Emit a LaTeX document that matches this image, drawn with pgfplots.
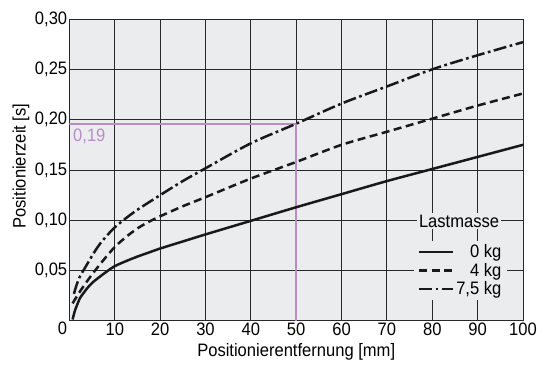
\documentclass[border=0pt]{standalone}
\usepackage{fontspec}
\setmainfont[FakeStretch=0.92]{Liberation Sans}
\usepackage{pgfplots}
\pgfplotsset{compat=1.18}
\definecolor{bgc}{RGB}{235,236,238}
\definecolor{lila}{RGB}{185,140,200}
\definecolor{gridc}{RGB}{40,40,40}
\begin{document}
\begin{tikzpicture}
\begin{axis}[
  scale only axis,
  width=453.6pt, height=302pt,
  xmin=0, xmax=100, ymin=0, ymax=0.30,
  axis background/.style={fill=bgc},
  axis line style={gridc, line width=1pt},
  xtick={10,20,...,100},
  xticklabels={10,20,30,40,50,60,70,80,90,100},
  ytick={0,0.05,0.10,0.15,0.20,0.25,0.30},
  yticklabels={\smash{\raisebox{-13.5pt}{0}},{0,05},{0,10},{0,15},{0,20},{0,25},{0,30}},
  /pgf/number format/assume math mode=true,
  major tick length=0pt,
  grid=major,
  major grid style={gridc, line width=1pt},
  tick label style={font=\fontsize{18}{20}\selectfont},
  yticklabel style={inner sep=2pt},
  xticklabel style={inner sep=2pt},
  label style={font=\fontsize{18}{20}\selectfont},
  xlabel={Positionierentfernung [mm]},
  ylabel={Positionierzeit [s]},
  xlabel style={at={(axis description cs:0.5,0)}, anchor=center, yshift=-31pt},
  ylabel style={at={(axis description cs:-0.1067,0.513)}, anchor=center},
  legend style={draw=none, fill=bgc, font=\fontsize{18}{20}\selectfont,
    at={(axis description cs:0.966,0.068)}, anchor=south east,
    inner xsep=4pt, inner ysep=2pt, row sep=0pt},
  legend cell align=right,
  legend image code/.code={\draw[#1] (0pt,0pt) -- (34pt,0pt);},
  every axis plot/.append style={line width=2.5pt, line cap=butt},
]
\addplot[lila, line width=2pt, forget plot] coordinates {(0,0.1955) (50,0.1955) (50,0)};

\addplot[black!90, smooth] coordinates {
(0.7,0.0015) (1.2,0.010) (1.7,0.016) (2.3,0.0225) (3,0.027) (4,0.033) (5.3,0.039) (7,0.045) (8.5,0.050) (10,0.0545) (12.5,0.0595) (15,0.064) (17.5,0.068) (20,0.072) (25,0.079) (30,0.086) (40,0.0995) (50,0.113) (60,0.126) (70,0.139) (80,0.151) (90,0.163) (100,0.175)};
\addlegendentry{0 kg}

\addplot[black!90, smooth, dash pattern=on 8pt off 4.5pt] coordinates {
(0.7,0.0175) (2,0.027) (3.5,0.037) (5.3,0.048) (7.5,0.0605) (10,0.0735) (12.5,0.0835) (15,0.092) (17.5,0.0985) (20,0.104) (25,0.114) (30,0.123) (40,0.1415) (50,0.158) (60,0.175) (70,0.188) (80,0.201) (90,0.214) (100,0.226)};
\addlegendentry{4 kg}

\addplot[black!90, smooth, dash pattern=on 13pt off 3.5pt on 2.7pt off 3.5pt] coordinates {
(1.0,0.027) (1.6,0.036) (2.3,0.044) (3.8,0.0556) (5.3,0.067) (6.8,0.077) (8.5,0.086) (10,0.093) (12,0.1005) (15,0.1105) (20,0.125) (25,0.139) (30,0.1517) (40,0.1765) (50,0.196) (60,0.216) (70,0.233) (80,0.250) (90,0.264) (100,0.277)};
\addlegendentry{7,5 kg}

\node[anchor=west, text=lila, font=\fontsize{18}{20}\selectfont, inner sep=0pt] at (axis cs:0.8,0.1835) {0,19};
\node[fill=bgc, font=\fontsize{18}{20}\selectfont, inner sep=2pt] at (axis cs:85.9,0.0993) {Lastmasse};
\end{axis}
\path (current axis.south west) ++(-69.4pt,-46pt) rectangle ++(547pt,367pt);
\end{tikzpicture}
\end{document}
